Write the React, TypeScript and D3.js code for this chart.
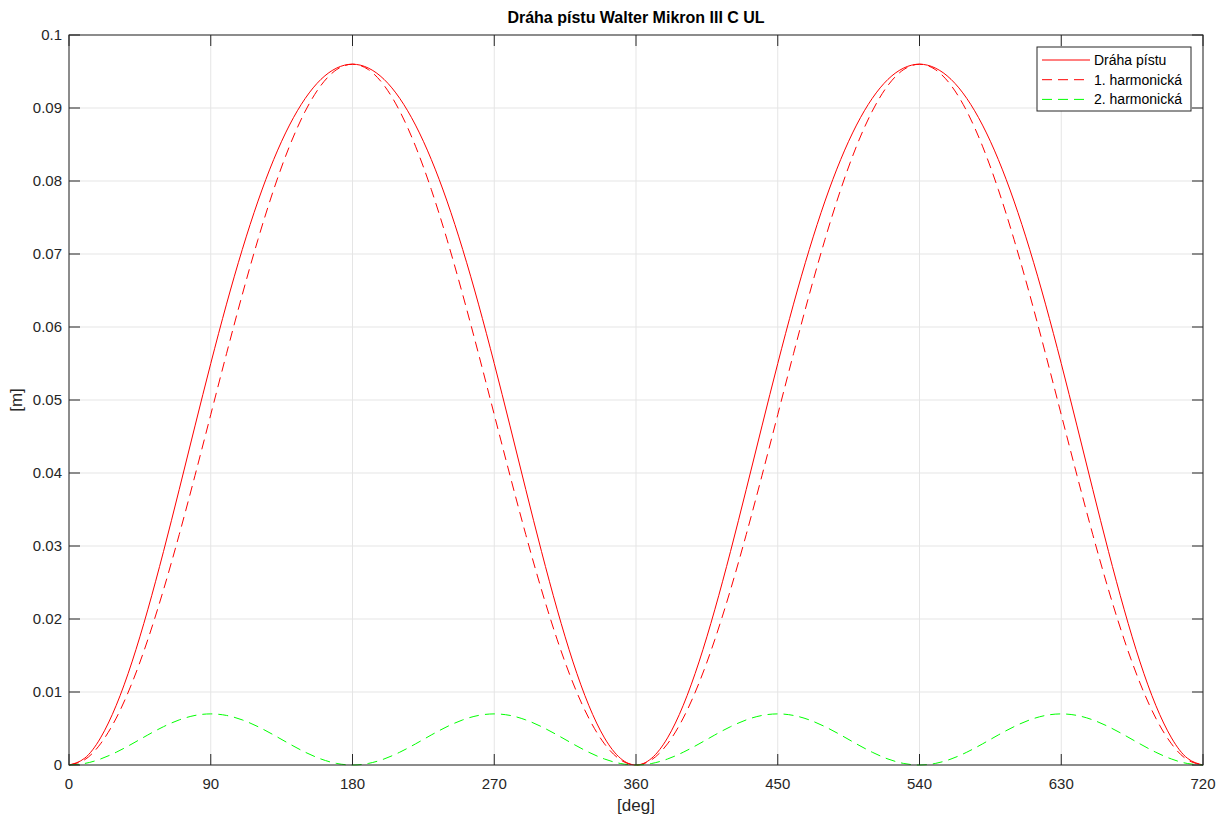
import React, { useEffect, useRef } from 'react';
import * as d3 from 'd3';

// crank angle [deg], every 10 degrees
const angles = d3.range(0, 721, 10);

// one stroke cycle (0..360), two cycles drawn
const pistonCycle = [
  0, 0.00094, 0.00371, 0.00818, 0.01412, 0.02126, 0.02925, 0.03776, 0.04645, 0.055,
  0.06313, 0.0706, 0.07725, 0.08296, 0.08766, 0.09132, 0.09393, 0.09548, 0.096,
  0.09548, 0.09393, 0.09132, 0.08766, 0.08296, 0.07725, 0.0706, 0.06313, 0.055,
  0.04645, 0.03776, 0.02925, 0.02126, 0.01412, 0.00818, 0.00371, 0.00094,
];
const harm1Cycle = [
  0, 0.00073, 0.0029, 0.00643, 0.01123, 0.01715, 0.024, 0.03158, 0.03966, 0.048,
  0.05634, 0.06442, 0.072, 0.07885, 0.08477, 0.08957, 0.09311, 0.09527, 0.096,
  0.09527, 0.09311, 0.08957, 0.08477, 0.07885, 0.072, 0.06442, 0.05634, 0.048,
  0.03966, 0.03158, 0.024, 0.01715, 0.01123, 0.00643, 0.0029, 0.00073,
];
const harm2Cycle = [
  0, 0.00021, 0.00082, 0.00175, 0.00289, 0.00411, 0.00525, 0.00618, 0.00679, 0.007,
  0.00679, 0.00618, 0.00525, 0.00411, 0.00289, 0.00175, 0.00082, 0.00021, 0,
  0.00021, 0.00082, 0.00175, 0.00289, 0.00411, 0.00525, 0.00618, 0.00679, 0.007,
  0.00679, 0.00618, 0.00525, 0.00411, 0.00289, 0.00175, 0.00082, 0.00021,
];
const piston = [...pistonCycle, ...pistonCycle, 0];
const harm1 = [...harm1Cycle, ...harm1Cycle, 0];
const harm2 = [...harm2Cycle, ...harm2Cycle, 0];

const xTicks = [0, 90, 180, 270, 360, 450, 540, 630, 720];
const yTicks = [0, 0.01, 0.02, 0.03, 0.04, 0.05, 0.06, 0.07, 0.08, 0.09, 0.1];
const seriesNames = ['Dráha pístu', '1. harmonická', '2. harmonická'];
const seriesColors = ['#ff0000', '#ff0000', '#00ff00'];
const seriesDash = ['none', '10,6', '10,6'];

const W = 1218;
const H = 816;
const m = { left: 69, right: 15, top: 35, bottom: 51 };
const font = '"Liberation Sans", Arial, sans-serif';

export default function App() {
  const ref = useRef<SVGSVGElement>(null);

  useEffect(() => {
    const svg = d3.select(ref.current);
    svg.selectAll('*').remove();

    const x = d3.scaleLinear().domain([0, 720]).range([m.left, W - m.right]);
    const y = d3.scaleLinear().domain([0, 0.1]).range([H - m.bottom, m.top]);

    svg.append('rect').attr('width', W).attr('height', H).attr('fill', '#fff');

    // grid
    const grid = svg.append('g').attr('stroke', '#e5e5e5').attr('stroke-width', 1);
    xTicks.forEach((t) => {
      grid.append('line').attr('x1', x(t)).attr('x2', x(t)).attr('y1', y(0)).attr('y2', y(0.1));
    });
    yTicks.forEach((t) => {
      grid.append('line').attr('x1', x(0)).attr('x2', x(720)).attr('y1', y(t)).attr('y2', y(t));
    });

    // lines
    const line = d3
      .line<number>()
      .x((_, i) => x(angles[i]))
      .y((d) => y(d))
      .curve(d3.curveNatural);

    [piston, harm1, harm2].forEach((data, i) => {
      svg
        .append('path')
        .attr('d', line(data))
        .attr('fill', 'none')
        .attr('stroke', seriesColors[i])
        .attr('stroke-width', 1)
        .attr('stroke-dasharray', seriesDash[i]);
    });

    // axes box and inward ticks
    const ax = svg.append('g').attr('stroke', '#262626').attr('stroke-width', 1);
    ax.append('rect')
      .attr('x', x(0))
      .attr('y', y(0.1))
      .attr('width', x(720) - x(0))
      .attr('height', y(0) - y(0.1))
      .attr('fill', 'none');
    const tl = 11;
    xTicks.forEach((t) => {
      ax.append('line').attr('x1', x(t)).attr('x2', x(t)).attr('y1', y(0)).attr('y2', y(0) - tl);
      ax.append('line').attr('x1', x(t)).attr('x2', x(t)).attr('y1', y(0.1)).attr('y2', y(0.1) + tl);
    });
    yTicks.forEach((t) => {
      ax.append('line').attr('x1', x(0)).attr('x2', x(0) + tl).attr('y1', y(t)).attr('y2', y(t));
      ax.append('line').attr('x1', x(720)).attr('x2', x(720) - tl).attr('y1', y(t)).attr('y2', y(t));
    });

    // tick labels
    const lbl = svg.append('g').attr('font-family', font).attr('font-size', 15).attr('fill', '#262626');
    xTicks.forEach((t) => {
      lbl.append('text').attr('x', x(t)).attr('y', y(0) + 24).attr('text-anchor', 'middle').text(t);
    });
    yTicks.forEach((t) => {
      lbl
        .append('text')
        .attr('x', x(0) - 7)
        .attr('y', y(t) + 5)
        .attr('text-anchor', 'end')
        .text(d3.format('~g')(t));
    });

    // axis titles
    lbl
      .append('text')
      .attr('x', (x(0) + x(720)) / 2)
      .attr('y', 811)
      .attr('text-anchor', 'middle')
      .attr('font-size', 17)
      .text('[deg]');
    lbl
      .append('text')
      .attr('transform', `translate(22,${(y(0) + y(0.1)) / 2}) rotate(-90)`)
      .attr('text-anchor', 'middle')
      .attr('font-size', 17)
      .text('[m]');

    svg
      .append('text')
      .attr('x', (x(0) + x(720)) / 2)
      .attr('y', 23)
      .attr('text-anchor', 'middle')
      .attr('font-family', font)
      .attr('font-size', 16)
      .attr('font-weight', 'bold')
      .attr('fill', '#000')
      .text('Dráha pístu Walter Mikron III C UL');

    // legend
    const lg = svg.append('g');
    lg.append('rect')
      .attr('x', 1037)
      .attr('y', 47)
      .attr('width', 154)
      .attr('height', 64)
      .attr('fill', '#fff')
      .attr('stroke', '#262626')
      .attr('stroke-width', 1);
    seriesNames.forEach((name, i) => {
      const ly = 60 + i * 19.7;
      lg.append('line')
        .attr('x1', 1042)
        .attr('x2', 1090)
        .attr('y1', ly)
        .attr('y2', ly)
        .attr('stroke', seriesColors[i])
        .attr('stroke-width', 1)
        .attr('stroke-dasharray', seriesDash[i]);
      lg.append('text')
        .attr('x', 1094)
        .attr('y', ly + 5)
        .attr('font-family', font)
        .attr('font-size', 14)
        .attr('fill', '#000')
        .text(name);
    });
  }, []);

  return (
    <div style={{ position: 'absolute', left: 0, top: 0 }}>
      <svg ref={ref} width={W} height={H} />
    </div>
  );
}
